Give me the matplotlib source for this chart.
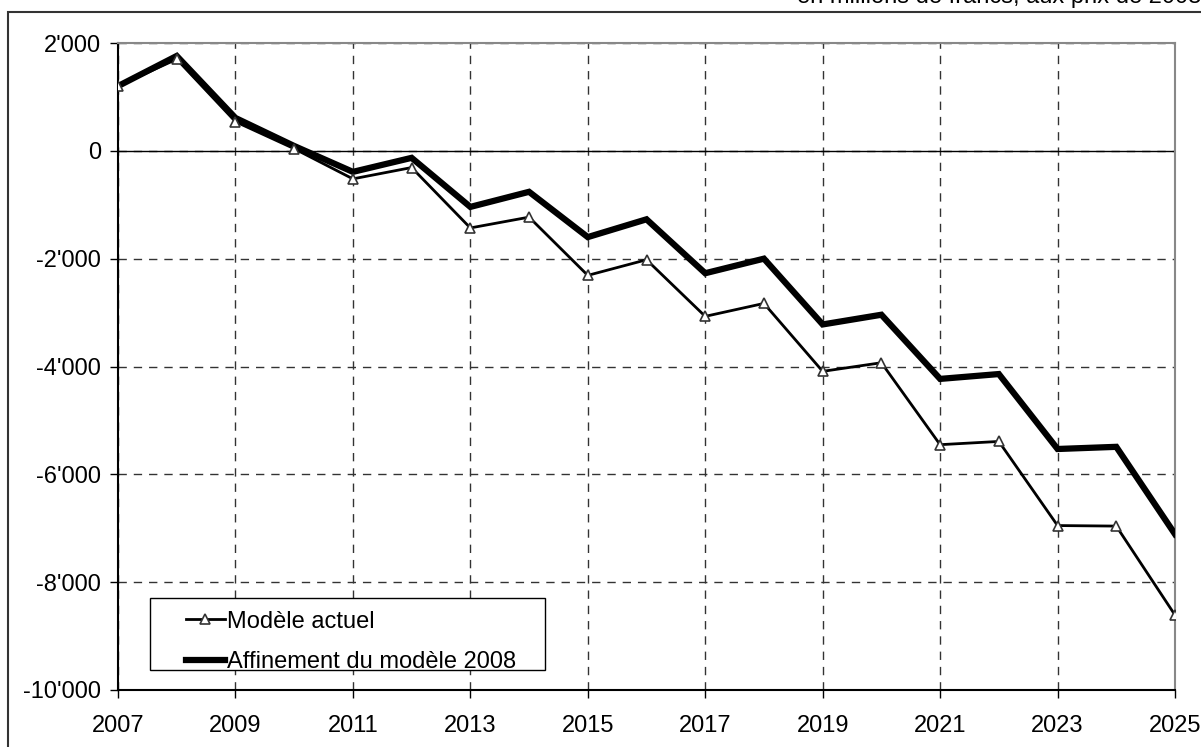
import matplotlib.pyplot as plt
from matplotlib.ticker import FuncFormatter
from matplotlib.patches import Rectangle

plt.rcParams['font.family'] = ['Liberation Sans', 'DejaVu Sans']

years = list(range(2007, 2026))
modele_actuel = [1200, 1700, 540, 40, -520, -310, -1430, -1230, -2310, -2020,
                 -3070, -2830, -4090, -3930, -5450, -5390, -6950, -6960, -8610]
affinement_2008 = [1200, 1760, 610, 90, -390, -130, -1040, -760, -1600, -1270,
                   -2270, -2000, -3220, -3040, -4230, -4140, -5530, -5490, -7110]
label_actuel = 'Modèle actuel'
label_affine = 'Affinement du modèle 2008'
top_note = 'en millions de francs, aux prix de 2008'

fig = plt.figure(figsize=(12.01, 7.47), dpi=100)
ax = fig.add_axes([118 / 1201, 1 - 690 / 747, 1057 / 1201, 647 / 747])

# thin series with triangles, thick series without markers
ax.plot(years, modele_actuel, color='black', linewidth=2, marker='^',
        markersize=7, markerfacecolor='white', markeredgecolor='#333333',
        markeredgewidth=1.2, label=label_actuel, zorder=4)
ax.plot(years, affinement_2008, color='black', linewidth=4.5,
        solid_joinstyle='miter', label=label_affine, zorder=3)

ax.axhline(0, color='black', linewidth=1, zorder=2)

ax.set_xlim(2007, 2025)
ax.set_ylim(-10000, 2000)
ax.set_xticks(range(2007, 2026, 2))
ax.set_yticks(range(-10000, 2001, 2000))
ax.yaxis.set_major_formatter(FuncFormatter(
    lambda v, p: f'{int(v):,}'.replace(',', "'")))

ax.grid(True, linestyle=(0, (6, 5)), color='#333333', linewidth=1)
ax.set_axisbelow(True)
ax.tick_params(labelsize=17, length=6, width=1, direction='out')
ax.tick_params(axis='y', pad=6)
ax.tick_params(axis='x', pad=12)

ax.spines['left'].set_color('black')
ax.spines['bottom'].set_color('black')
ax.spines['top'].set_color('#888888')
ax.spines['right'].set_color('#888888')
for s in ax.spines.values():
    s.set_linewidth(1.5)

# legend box drawn separately so the entries can sit inset like the original
ax.add_patch(Rectangle((0.030, 0.031), 0.374, 0.111, transform=ax.transAxes,
                       facecolor='white', edgecolor='black', linewidth=1,
                       zorder=5))
leg = ax.legend(loc='center left', bbox_to_anchor=(0.0643, 0.0745),
                fontsize=17, frameon=False, handlelength=1.65,
                handletextpad=0.1, borderpad=0, borderaxespad=0,
                labelspacing=0.78)
leg.set_zorder(6)

# outer frame and the note at the top, clipped by the image edge as in the source
fig.patches.append(Rectangle((8 / 1201, -0.01), 1.0, 1 - 12 / 747 + 0.01,
                             transform=fig.transFigure, fill=False,
                             edgecolor='#333333', linewidth=1.5))
fig.text(1.0, 1 - 3 / 747, top_note, ha='right', va='baseline', fontsize=17)

fig.savefig('out.png', dpi=100)
